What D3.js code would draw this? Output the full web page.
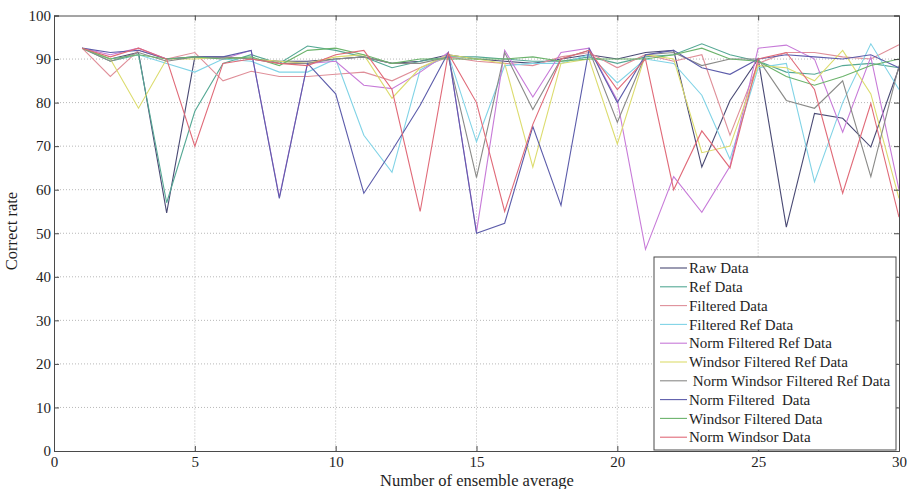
<!DOCTYPE html>
<html>
<head>
<meta charset="utf-8">
<script src="https://cdn.jsdelivr.net/npm/d3@7"></script>
<style>
  html, body { margin: 0; padding: 0; background: #fff; }
  svg { display: block; }
  svg text { font-family: "Liberation Serif", "DejaVu Serif", serif; }
</style>
</head>
<body>
<svg id="chart" width="907" height="489"></svg>
<script>
// Ensemble sizes 1..30
const ensembleSizes = d3.range(1, 31);

const seriesNames = [
  "Raw Data",
  "Ref Data",
  "Filtered Data",
  "Filtered Ref Data",
  "Norm Filtered Ref Data",
  "Windsor Filtered Ref Data",
  " Norm Windsor Filtered Ref Data",
  "Norm Filtered  Data",
  "Windsor Filtered Data",
  "Norm Windsor Data"
];

const seriesColors = [
  "#4a4a74", "#55a894", "#df8f99", "#80d3e6", "#c77ad8",
  "#dcdc6e", "#8a8a88", "#5c5caa", "#6bb36b", "#e06a78"
];

// Correct rate (%) per ensemble size
const rawData = [92.5,90,91.5,54.7,90.5,90.5,90,89.5,89.5,90,90.5,89,89.5,91,90,89.5,89,90,91,90,91.5,92,65.2,80.5,90,51.4,77.5,76.4,69.8,88];
const refData = [92.5,89.5,91,57,78,89,91,89,93,92,90.5,88,89.5,90.5,90.5,90,89.5,89.5,90.5,89,90.5,91,93.5,91,89.5,87,86.5,88.5,89,88];
const filteredData = [92.5,86,92,90,91.5,85,87.2,86,86,86.5,87,85,88,90.5,89.5,89,88.5,90.5,91.5,88,91,89.5,91,72.5,89,91.5,91.5,90.5,90,93.3];
const filteredRefData = [92.5,90,91,89,87,90,89.5,87,87,90,72.5,64,87.5,91,71,88.5,89,89,91,84.5,90,89,81.7,67,88,89,61.8,80,93.5,83];
const normFilteredRefData = [92.5,91,92.5,90,90.5,90,92,58.3,89,89.5,84,83.2,87,91.5,50.3,92,81.3,91.5,92.5,80.5,46.3,63,54.8,65.4,92.5,93.2,90,73.2,90.5,60];
const windsorFilteredRefData = [92.5,90,78.7,90,90,90.5,90,89.5,89,90.5,91,81,88,91,90,89,65.2,89,90,70.5,91,90,68.5,70,88.5,88,85,92,82,58];
const normWindsorFilteredRefData = [92.5,89.5,91.5,89.5,90.5,90.5,90,89,89,90,90.5,89,89,90.5,62.8,91.5,78.4,90,92,75.5,91,91.5,88.5,90,90,80.5,78.7,85,63,88.5];
const normFilteredData = [92.5,91.5,92,90,90.5,90.5,92,58,89,82,59.2,69,79.4,91.5,50,52.3,74.5,56.4,92.4,80,91,92,88,86.5,90,91,90.5,90,91,88];
const windsorFilteredData = [92.5,90,91,90,90.5,90,90.5,88.5,92,92.5,91,89,90,90,90,90,90.5,89.5,90,90,90,91,92.5,90,89.5,86,84,86,88.5,90];
const normWindsorData = [92.5,90.5,92.5,90,70,89,90,89,88.5,91,92,83,55,91.3,80,55,75,90,92,83,90,60,73.5,65,90,91.5,83,59.2,79.8,53.7];

const seriesValues = [
  rawData, refData, filteredData, filteredRefData, normFilteredRefData,
  windsorFilteredRefData, normWindsorFilteredRefData, normFilteredData,
  windsorFilteredData, normWindsorData
];

const xTickValues = [0, 5, 10, 15, 20, 25, 30];
const yTickValues = [0, 10, 20, 30, 40, 50, 60, 70, 80, 90, 100];

const xLabel = "Number of ensemble average";
const yLabel = "Correct rate";

// Layout
const svg = d3.select("#chart");
const plot = { left: 54, right: 899, top: 15.5, bottom: 451 };

const x = d3.scaleLinear().domain([0, 30]).range([plot.left, plot.right]);
const y = d3.scaleLinear().domain([0, 100]).range([plot.bottom, plot.top]);

const axisColor = "#4a4a4a";
const textColor = "#1e1e1e";
const tickLen = 5;
const fontSize = 15;
const titleSize = 16.5;

// Dotted grid
const grid = svg.append("g");
grid.selectAll("line.gx")
  .data(xTickValues.filter(d => d > 0 && d < 30))
  .join("line")
  .attr("x1", d => x(d)).attr("x2", d => x(d))
  .attr("y1", plot.top).attr("y2", plot.bottom)
  .attr("stroke", "#b8b8b8").attr("stroke-width", 1)
  .attr("stroke-dasharray", "1,2");
grid.selectAll("line.gy")
  .data(yTickValues.filter(d => d > 0 && d < 100))
  .join("line")
  .attr("x1", plot.left).attr("x2", plot.right)
  .attr("y1", d => y(d)).attr("y2", d => y(d))
  .attr("stroke", "#b8b8b8").attr("stroke-width", 1)
  .attr("stroke-dasharray", "1,2");

// Series lines
const line = d3.line()
  .x((d, i) => x(ensembleSizes[i]))
  .y(d => y(d));

svg.append("g")
  .selectAll("path")
  .data(seriesValues)
  .join("path")
  .attr("d", d => line(d))
  .attr("fill", "none")
  .attr("stroke", (d, i) => seriesColors[i])
  .attr("stroke-width", 1.1)
  .attr("stroke-linejoin", "miter");

// Axes (ticks pointing inwards on all four sides)
const bottomAxis = d3.axisBottom(x).tickValues(xTickValues).tickSize(-tickLen).tickPadding(5).tickFormat(d3.format("d"));
const topAxis = d3.axisTop(x).tickValues(xTickValues).tickSize(-tickLen).tickFormat("");
const leftAxis = d3.axisLeft(y).tickValues(yTickValues).tickSize(-tickLen).tickPadding(3).tickFormat(d3.format("d"));
const rightAxis = d3.axisRight(y).tickValues(yTickValues).tickSize(-tickLen).tickFormat("");

function styleAxis(g) {
  g.selectAll("path.domain").attr("stroke", axisColor).attr("stroke-width", 1);
  g.selectAll(".tick line").attr("stroke", axisColor);
  g.selectAll("text").attr("fill", textColor).attr("font-size", fontSize)
    .attr("font-family", "Liberation Serif, DejaVu Serif, serif");
}

svg.append("g").attr("transform", `translate(0,${plot.bottom})`).call(bottomAxis).call(styleAxis);
svg.append("g").attr("transform", `translate(0,${plot.top})`).call(topAxis).call(styleAxis);
svg.append("g").attr("transform", `translate(${plot.left},0)`).call(leftAxis).call(styleAxis);
svg.append("g").attr("transform", `translate(${plot.right},0)`).call(rightAxis).call(styleAxis);

// Axis titles
svg.append("text")
  .attr("x", 477)
  .attr("y", 486)
  .attr("text-anchor", "middle")
  .attr("font-size", titleSize)
  .attr("fill", textColor)
  .text(xLabel);

svg.append("text")
  .attr("transform", `translate(17,231) rotate(-90)`)
  .attr("text-anchor", "middle")
  .attr("font-size", titleSize)
  .attr("fill", textColor)
  .text(yLabel);

// Legend
const legend = { left: 654, top: 257, width: 242, height: 193, rowStart: 268, rowStep: 18.8 };
const lg = svg.append("g");
lg.append("rect")
  .attr("x", legend.left).attr("y", legend.top)
  .attr("width", legend.width).attr("height", legend.height)
  .attr("fill", "#fff").attr("stroke", axisColor).attr("stroke-width", 1);

const rows = lg.selectAll("g.row")
  .data(seriesNames)
  .join("g")
  .attr("transform", (d, i) => `translate(0,${legend.rowStart + i * legend.rowStep})`);

rows.append("line")
  .attr("x1", legend.left + 6).attr("x2", legend.left + 33)
  .attr("y1", 0).attr("y2", 0)
  .attr("stroke", (d, i) => seriesColors[i])
  .attr("stroke-width", 1.1);

rows.append("text")
  .attr("x", legend.left + 35)
  .attr("y", 0)
  .attr("dy", "0.35em")
  .attr("font-size", fontSize)
  .attr("fill", textColor)
  .style("white-space", "pre")
  .text(d => d);
</script>
</body>
</html>
